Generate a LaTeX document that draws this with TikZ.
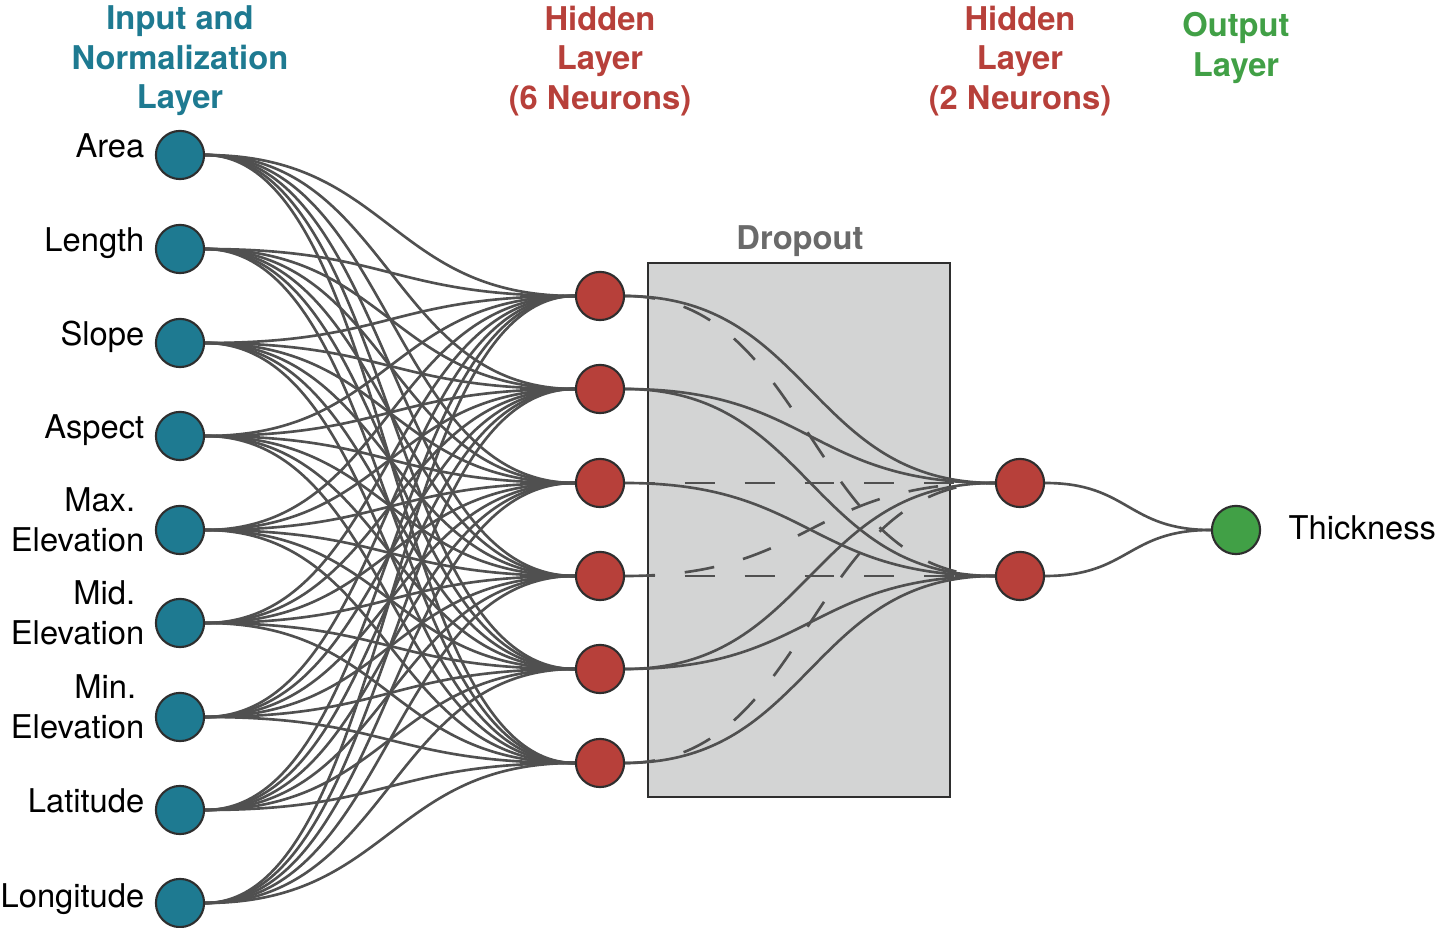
\documentclass[tikz,border=0pt]{standalone}
\usepackage{fontspec}
\setmainfont{TeX Gyre Heros}
\usetikzlibrary{backgrounds}

\definecolor{inblue}{HTML}{1E7A91}
\definecolor{hidred}{HTML}{B7403A}
\definecolor{outgreen}{HTML}{41A046}
\definecolor{wiregray}{HTML}{505050}
\definecolor{rimgray}{HTML}{2E2E2E}
\definecolor{boxgray}{HTML}{D3D4D4}
\definecolor{dropgray}{HTML}{6A6A6A}

\begin{document}
\begin{tikzpicture}[x=0.01cm, y=-0.01cm]
        % Style definitions
        \tikzset{
            neuron/.style={circle, draw=rimgray, line width=0.6pt, minimum size=13.7pt, inner sep=0pt},
            inneuron/.style={neuron, fill=inblue},
            hidneuron/.style={neuron, fill=hidred},
            outneuron/.style={neuron, fill=outgreen},
            wire/.style={draw=wiregray, line width=0.75pt},
            dropwire/.style={wire, dash pattern=on 8.5pt off 8.5pt},
            dropbox/.style={draw=rimgray, fill=boxgray, line width=0.6pt, inner sep=0pt,
                            minimum width=85.9pt, minimum height=151.9pt},
            lbl/.style={font=\fontsize{9.3}{11.3}\selectfont, inner sep=0pt, align=right},
            head/.style={font=\fontsize{9.3}{11.24}\selectfont\bfseries, inner sep=0pt, align=center}
        }
        \useasboundingbox (0,0) rectangle (1436,928);

        % ==========================================
        % NEURONS
        % ==========================================
        \foreach \y [count=\i] in {155,249,343,436,530,623,717,810,903}
            \node[inneuron] (in\i) at (180,\y) {};
        \foreach \y [count=\j] in {296,389,483,576,669,763}
            \node[hidneuron] (h\j) at (600,\y) {};
        \node[hidneuron] (o1) at (1020,483) {};
        \node[hidneuron] (o2) at (1020,576) {};
        \node[outneuron] (out) at (1236,530) {};

        \begin{scope}[on background layer]
            % INPUT -> HIDDEN (fully connected)
            \foreach \i in {1,...,9}
                \foreach \j in {1,...,6}
                    \draw[wire] (in\i.east) .. controls +(185,0) and +(-185,0) .. (h\j.west);

            % Dropout box
            \node[dropbox] (drop) at (799,530) {};

            % HIDDEN -> HIDDEN (dashed = dropped)
            \foreach \i/\j/\s in {1/1/wire, 1/2/dropwire, 2/1/wire, 2/2/wire,
                                  3/1/dropwire, 3/2/wire, 4/1/dropwire, 4/2/dropwire,
                                  5/1/wire, 5/2/wire, 6/1/dropwire, 6/2/wire}
                \draw[\s] (h\i.east) .. controls +(186,0) and +(-186,0) .. (o\j.west);

            % Output
            \draw[wire] (o1.east) .. controls +(84,0) and +(-84,0) .. (out.west);
            \draw[wire] (o2.east) .. controls +(84,0) and +(-84,0) .. (out.west);
        \end{scope}

        % ==========================================
        % LABELS
        % ==========================================
        \node[head, text=dropgray, anchor=base] (droplbl) at (800,250) {Dropout};

        \foreach \y/\txt [count=\k] in {158/Area, 252/Length, 346/Slope, 439/Aspect, 813/Latitude, 907/Longitude}
            \node[lbl, anchor=base east] (lab\k) at (145,\y) {\txt};
        \node[lbl, anchor=east] (labmax) at (145,520) {Max.\kern2.6pt\\Elevation};
        \node[lbl, anchor=east] (labmid) at (145,613) {Mid.\kern2.6pt\\Elevation};
        \node[lbl, anchor=east] (labmin) at (145,707) {Min.\kern2.3pt\\Elevation};
        \node[lbl, anchor=base west] (labout) at (1288,540) {Thickness};

        \node[head, text=inblue, anchor=north] (hin) at (180,5) {Input and\\Normalization\\Layer};
        \node[head, text=hidred, anchor=north] (hhidA) at (600,5) {Hidden\\Layer\\(6 Neurons)};
        \node[head, text=hidred, anchor=north] (hhidB) at (1020,5) {Hidden\\Layer\\(2 Neurons)};
        \node[head, text=outgreen, anchor=north] (hout) at (1236,12) {Output\\Layer};
\end{tikzpicture}
\end{document}
